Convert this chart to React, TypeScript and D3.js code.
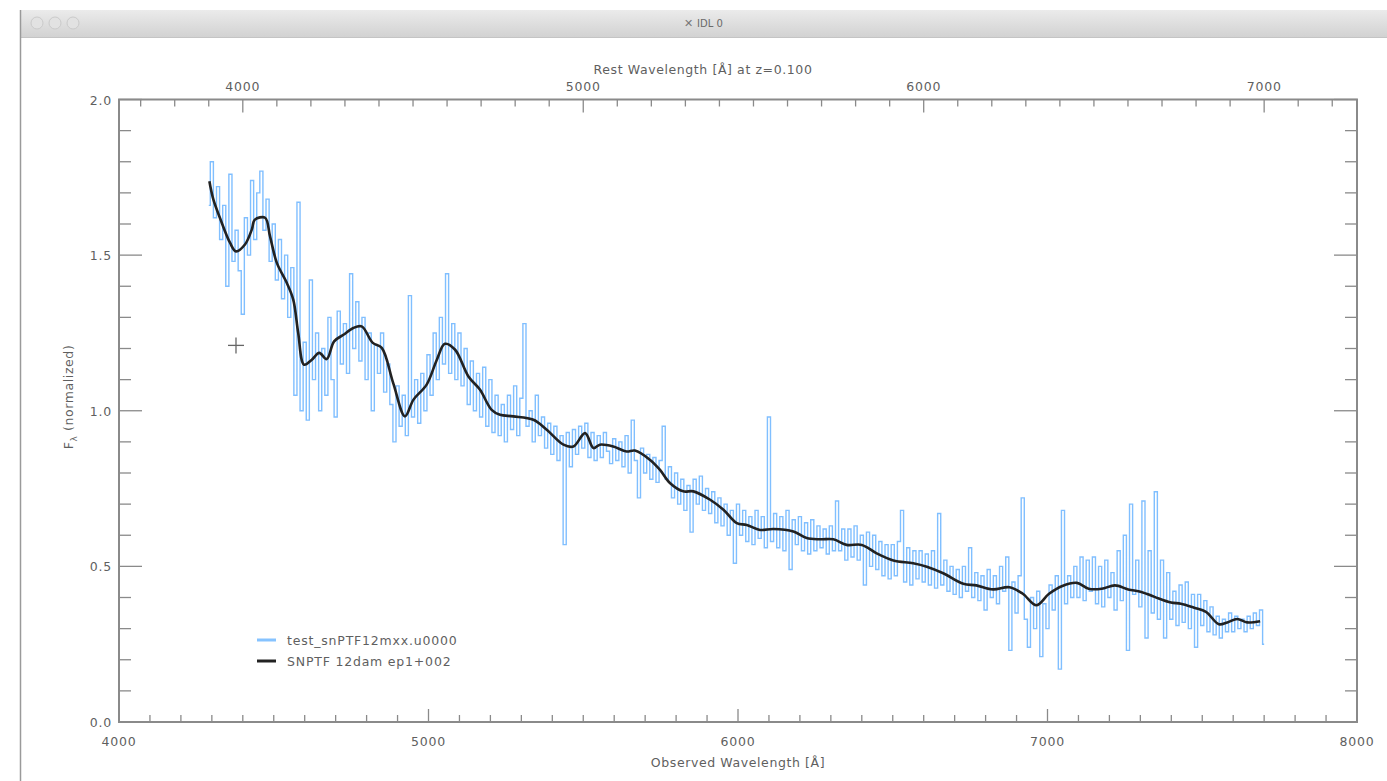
import React from 'react';
import * as d3 from 'd3';

// ---- data ----
const REDSHIFT = 0.1;
const OBS_TICKS = [4000, 5000, 6000, 7000, 8000];
const REST_TICKS = [4000, 5000, 6000, 7000];
const Y_TICKS = [0.0, 0.5, 1.0, 1.5, 2.0];
const Y_TICK_LABELS = ['0.0', '0.5', '1.0', '1.5', '2.0'];

// observed spectrum sampled on a regular wavelength grid (start + step), flux normalized
const WAVE_START = 4290;
const WAVE_STEP = 10;
const FLUX = [
  1.66, 1.80, 1.62, 1.72, 1.55, 1.66, 1.40, 1.76, 1.48, 1.58,
  1.45, 1.31, 1.62, 1.50, 1.74, 1.55, 1.70, 1.77, 1.58, 1.68,
  1.48, 1.60, 1.42, 1.55, 1.36, 1.50, 1.30, 1.46, 1.05, 1.67,
  1.00, 1.22, 0.97, 1.42, 1.10, 1.25, 1.00, 1.20, 1.05, 1.30,
  1.10, 0.98, 1.32, 1.15, 1.28, 1.12, 1.44, 1.20, 1.35, 1.16,
  1.30, 1.10, 1.25, 1.00, 1.21, 1.12, 1.25, 1.06, 1.15, 1.02,
  0.90, 1.08, 0.95, 1.05, 0.92, 1.37, 0.98, 1.10, 0.96, 1.12,
  1.00, 1.18, 1.05, 1.25, 1.10, 1.30, 1.15, 1.44, 1.12, 1.28,
  1.10, 1.25, 1.08, 1.20, 1.02, 1.16, 1.00, 1.12, 0.98, 1.14,
  0.95, 1.10, 0.93, 1.05, 0.92, 1.02, 0.90, 1.05, 0.94, 1.08,
  0.92, 1.04, 1.28, 0.95, 1.00, 0.90, 1.05, 0.92, 0.98, 0.88,
  0.96, 0.86, 0.95, 0.84, 0.92, 0.57, 0.93, 0.82, 0.94, 0.86,
  0.95, 0.88, 0.96, 0.85, 0.93, 0.84, 0.92, 0.85, 0.93, 0.87,
  0.83, 0.91, 0.84, 0.90, 0.82, 0.92, 0.80, 0.97, 0.84, 0.72,
  0.88, 0.80, 0.86, 0.78, 0.85, 0.77, 0.84, 0.95, 0.78, 0.82,
  0.72, 0.80, 0.70, 0.78, 0.68, 0.76, 0.61, 0.78, 0.70, 0.79,
  0.68, 0.75, 0.67, 0.74, 0.64, 0.72, 0.63, 0.70, 0.60, 0.68,
  0.51, 0.70, 0.60, 0.68, 0.58, 0.66, 0.57, 0.68, 0.59, 0.66,
  0.56, 0.98, 0.58, 0.67, 0.56, 0.66, 0.55, 0.68, 0.49, 0.65,
  0.57, 0.66, 0.55, 0.64, 0.54, 0.65, 0.55, 0.63, 0.56, 0.62,
  0.54, 0.63, 0.55, 0.71, 0.55, 0.62, 0.52, 0.62, 0.53, 0.63,
  0.52, 0.60, 0.44, 0.61, 0.50, 0.60, 0.49, 0.58, 0.47, 0.57,
  0.46, 0.57, 0.47, 0.58, 0.68, 0.45, 0.56, 0.44, 0.55, 0.46,
  0.55, 0.45, 0.54, 0.44, 0.55, 0.43, 0.67, 0.44, 0.52, 0.42,
  0.50, 0.41, 0.49, 0.40, 0.50, 0.42, 0.56, 0.40, 0.48, 0.39,
  0.47, 0.36, 0.49, 0.40, 0.47, 0.38, 0.50, 0.42, 0.53, 0.23,
  0.45, 0.35, 0.47, 0.72, 0.33, 0.24, 0.40, 0.30, 0.42, 0.21,
  0.38, 0.30, 0.44, 0.36, 0.47, 0.17, 0.68, 0.38, 0.47, 0.40,
  0.50, 0.40, 0.53, 0.39, 0.52, 0.42, 0.53, 0.38, 0.50, 0.37,
  0.52, 0.40, 0.48, 0.36, 0.55, 0.39, 0.60, 0.23, 0.70, 0.41,
  0.52, 0.37, 0.71, 0.27, 0.55, 0.35, 0.74, 0.33, 0.52, 0.27,
  0.48, 0.33, 0.42, 0.31, 0.44, 0.32, 0.45, 0.30, 0.41, 0.24,
  0.41, 0.31, 0.39, 0.29, 0.37, 0.28, 0.34, 0.27, 0.33, 0.29,
  0.35, 0.29, 0.34, 0.30, 0.33, 0.29, 0.34, 0.30, 0.35, 0.31, 0.36, 0.25,
];

// smoothed template
const SMOOTH_WAVE = [
  4292, 4305, 4326, 4359, 4378, 4407, 4429, 4439, 4472, 4488,
  4510, 4542, 4563, 4579, 4598, 4623, 4647, 4671, 4695, 4725,
  4757, 4784, 4820, 4849, 4886, 4924, 4951, 4994, 5027, 5053,
  5086, 5129, 5166, 5204, 5231, 5274, 5339, 5382, 5436, 5468,
  5506, 5533, 5554, 5597, 5640, 5667, 5716, 5748, 5780, 5823,
  5856, 5910, 5953, 5996, 6028, 6071, 6114, 6179, 6222, 6265,
  6308, 6351, 6400, 6448, 6502, 6566, 6610, 6663, 6728, 6770,
  6824, 6877, 6920, 6964, 7005, 7048, 7095, 7133, 7175, 7218,
  7261, 7303, 7346, 7399, 7431, 7474, 7512, 7554, 7581, 7613,
  7645, 7687,
];
const SMOOTH_FLUX = [
  1.737, 1.678, 1.620, 1.539, 1.512, 1.534, 1.582, 1.614, 1.620, 1.560,
  1.475, 1.411, 1.357, 1.250, 1.148, 1.164, 1.186, 1.166, 1.223, 1.244,
  1.266, 1.271, 1.218, 1.202, 1.089, 0.982, 1.035, 1.084, 1.164, 1.215,
  1.196, 1.110, 1.068, 1.003, 0.987, 0.982, 0.971, 0.939, 0.891, 0.885,
  0.928, 0.880, 0.891, 0.885, 0.869, 0.872, 0.842, 0.810, 0.768, 0.741,
  0.741, 0.714, 0.682, 0.639, 0.633, 0.617, 0.620, 0.612, 0.591, 0.587,
  0.587, 0.569, 0.569, 0.542, 0.519, 0.510, 0.499, 0.478, 0.444, 0.439,
  0.426, 0.433, 0.412, 0.375, 0.412, 0.437, 0.447, 0.428, 0.428, 0.439,
  0.426, 0.418, 0.402, 0.384, 0.380, 0.367, 0.354, 0.314, 0.320, 0.331,
  0.320, 0.324,
];

const PLUS_MARKER = { wave: 4378, flux: 1.21 };

const LEGEND_LABELS = ['test_snPTF12mxx.u0000', 'SNPTF 12dam ep1+002'];
const LEGEND_COLORS = ['#86c3ff', '#222222'];

// ---- layout ----
const W = 1387;
const H = 781;
const PL = 119, PR = 1357, PT = 99.5, PB = 722;
const FONT = '"DejaVu Sans", sans-serif';
const AXIS_COLOR = '#8a8a8a';
const TEXT_COLOR = '#5f5f5f';

export default function App() {
  const x = d3.scaleLinear().domain([4000, 8000]).range([PL, PR]);
  const xRest = d3.scaleLinear().domain([4000 / (1 + REDSHIFT), 8000 / (1 + REDSHIFT)]).range([PL, PR]);
  const y = d3.scaleLinear().domain([0, 2]).range([PB, PT]);

  const spec = FLUX.map((f, i) => [WAVE_START + i * WAVE_STEP, f] as [number, number]);
  const specLine = d3.line<[number, number]>().x(d => x(d[0])).y(d => y(d[1])).curve(d3.curveStep);
  const smooth = SMOOTH_WAVE.map((w, i) => [w, SMOOTH_FLUX[i]] as [number, number]);
  const smoothLine = d3.line<[number, number]>().x(d => x(d[0])).y(d => y(d[1])).curve(d3.curveCatmullRom.alpha(0.5));

  const obsMinor = d3.range(4100, 8000, 100).filter(v => v % 1000 !== 0);
  const restMin = xRest.domain()[0], restMax = xRest.domain()[1];
  const restMinor = d3.range(Math.ceil(restMin / 100) * 100, restMax, 100).filter(v => v % 1000 !== 0);
  const yMinor = d3.range(0.1, 2.0, 0.1).filter(v => Math.abs(v * 2 - Math.round(v * 2)) > 1e-6);

  const xMaj = 13, xMin = 7, yMaj = 23, yMin = 12;

  return (
    <svg width={W} height={H} style={{ position: 'absolute', left: 0, top: 0, display: 'block' }}
      xmlns="http://www.w3.org/2000/svg">
      <defs>
        <linearGradient id="tb" x1="0" y1="0" x2="0" y2="1">
          <stop offset="0" stopColor="#ebebeb" />
          <stop offset="1" stopColor="#d2d2d2" />
        </linearGradient>
        <clipPath id="plotClip">
          <rect x={PL} y={PT} width={PR - PL} height={PB - PT} />
        </clipPath>
        <filter id="soft" x="-5%" y="-5%" width="110%" height="110%">
          <feGaussianBlur stdDeviation="0.45" />
        </filter>
      </defs>
      <rect x={0} y={0} width={W} height={H} fill="#ffffff" />
      {/* window chrome */}
      <rect x={20} y={10} width={W - 20} height={H - 10} fill="#ffffff" />
      <rect x={20} y={10} width={W - 20} height={27} fill="url(#tb)" />
      <line x1={20} x2={W} y1={37.5} y2={37.5} stroke="#c4c4c4" strokeWidth={1} />
      <line x1={20.5} x2={20.5} y1={10} y2={H} stroke="#9a9a9a" strokeWidth={1.5} />
      {[37, 55, 73].map(cx => (
        <circle key={cx} cx={cx} cy={23} r={6} fill="#e2e2e2" stroke="#cacaca" strokeWidth={1} />
      ))}
      <text x={684} y={27} fontFamily={FONT} fontSize={11} fill="#777">✕</text>
      <text x={697} y={27} fontFamily={FONT} fontSize={10} fill="#6a6a6a">IDL 0</text>

      {/* data */}
      <g clipPath="url(#plotClip)">
        <g filter="url(#soft)">
          <path d={specLine(spec) || ''} fill="none" stroke="#80bfff" strokeWidth={1.4} />
          <path d={smoothLine(smooth) || ''} fill="none" stroke="#222" strokeWidth={2.6} strokeLinejoin="round" />
        </g>
      </g>
      {/* plus marker */}
      <g stroke="#666" strokeWidth={1.3}>
        <line x1={x(PLUS_MARKER.wave) - 8} x2={x(PLUS_MARKER.wave) + 8} y1={y(PLUS_MARKER.flux)} y2={y(PLUS_MARKER.flux)} />
        <line x1={x(PLUS_MARKER.wave)} x2={x(PLUS_MARKER.wave)} y1={y(PLUS_MARKER.flux) - 8} y2={y(PLUS_MARKER.flux) + 8} />
      </g>

      {/* frame */}
      <rect x={PL} y={PT} width={PR - PL} height={PB - PT} fill="none" stroke={AXIS_COLOR} strokeWidth={2} />

      {/* ticks */}
      <g stroke={AXIS_COLOR} strokeWidth={1.3}>
        {OBS_TICKS.map(v => <line key={'bM' + v} x1={x(v)} x2={x(v)} y1={PB} y2={PB - xMaj} />)}
        {obsMinor.map(v => <line key={'bm' + v} x1={x(v)} x2={x(v)} y1={PB} y2={PB - xMin} />)}
        {REST_TICKS.map(v => <line key={'tM' + v} x1={xRest(v)} x2={xRest(v)} y1={PT} y2={PT + xMaj} />)}
        {restMinor.map(v => <line key={'tm' + v} x1={xRest(v)} x2={xRest(v)} y1={PT} y2={PT + xMin} />)}
        {Y_TICKS.map(v => (
          <g key={'yM' + v}>
            <line x1={PL} x2={PL + yMaj} y1={y(v)} y2={y(v)} />
            <line x1={PR} x2={PR - yMaj} y1={y(v)} y2={y(v)} />
          </g>
        ))}
        {yMinor.map(v => (
          <g key={'ym' + v}>
            <line x1={PL} x2={PL + yMin} y1={y(v)} y2={y(v)} />
            <line x1={PR} x2={PR - yMin} y1={y(v)} y2={y(v)} />
          </g>
        ))}
      </g>

      {/* tick labels */}
      <g fontFamily={FONT} fontSize={12.5} fill={TEXT_COLOR} letterSpacing={0.8}>
        {OBS_TICKS.map(v => (
          <text key={'bl' + v} x={x(v)} y={746} textAnchor="middle">{v}</text>
        ))}
        {REST_TICKS.map(v => (
          <text key={'tl' + v} x={xRest(v)} y={91} textAnchor="middle">{v}</text>
        ))}
        {Y_TICKS.map((v, i) => (
          <text key={'yl' + v} x={112} y={y(v) + 5} textAnchor="end">{Y_TICK_LABELS[i]}</text>
        ))}
      </g>

      {/* axis titles */}
      <g fontFamily={FONT} fontSize={12.5} fill={TEXT_COLOR} letterSpacing={0.6}>
        <text x={738} y={767} textAnchor="middle">Observed Wavelength [Å]</text>
        <text x={703} y={74} textAnchor="middle">Rest Wavelength [Å] at z=0.100</text>
        <text transform={`translate(73, 397) rotate(-90)`} textAnchor="middle">
          <tspan>F</tspan>
          <tspan fontSize={9} dy={4}>λ</tspan>
          <tspan dy={-4}> (normalized)</tspan>
        </text>
      </g>

      {/* legend */}
      <g fontFamily={FONT} fontSize={12.5} fill={TEXT_COLOR} letterSpacing={0.8}>
        {LEGEND_LABELS.map((lab, i) => (
          <g key={lab}>
            <line x1={257} x2={276} y1={640 + i * 21} y2={640 + i * 21} stroke={LEGEND_COLORS[i]} strokeWidth={3} />
            <text x={287} y={645 + i * 21}>{lab}</text>
          </g>
        ))}
      </g>
    </svg>
  );
}
